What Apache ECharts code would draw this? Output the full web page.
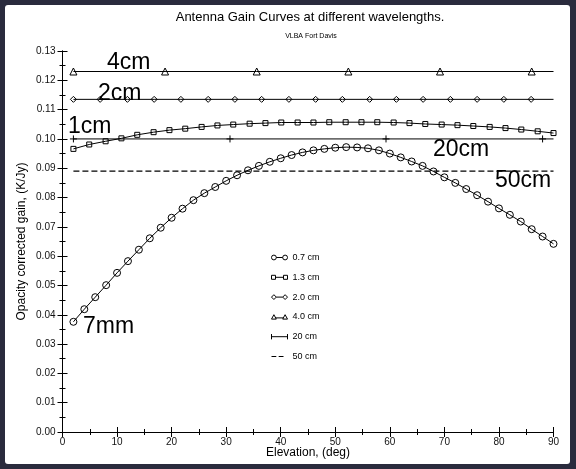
<!DOCTYPE html>
<html>
<head>
    <meta charset="utf-8">
    <title>Antenna Gain Curves</title>
    <script src="https://cdn.jsdelivr.net/npm/echarts@6/dist/echarts.min.js"></script>
    <style>
        html, body { margin: 0; padding: 0; background: #2a2b3d; }
    </style>
</head>
<body>
    <div id="main" style="width: 576px;height: 469px;"></div>
    <script type="text/javascript">
// values
var elev07 = [2, 4, 6, 8, 10, 12, 14, 16, 18, 20, 22, 24, 26, 28, 30, 32, 34, 36, 38, 40, 42, 44, 46,
    48, 50, 52, 54, 56, 58, 60, 62, 64, 66, 68, 70, 72, 74, 76, 78, 80, 82, 84, 86, 88, 90];
var gain07 = [0.0376, 0.0419, 0.0460, 0.0501, 0.0543, 0.0583, 0.0622, 0.0661, 0.0697, 0.0731,
    0.0762, 0.0791, 0.0815, 0.0836, 0.0857, 0.0876, 0.0893, 0.0908, 0.0922, 0.0934, 0.0945,
    0.0954, 0.0961, 0.0966, 0.0970, 0.0972, 0.0971, 0.0968, 0.0961, 0.0950, 0.0937, 0.0923,
    0.0908, 0.0889, 0.0869, 0.0850, 0.0829, 0.0808, 0.0786, 0.0763, 0.0741, 0.0718, 0.0692,
    0.0667, 0.0642];

var elev13 = [2.0, 4.9, 7.9, 10.8, 13.7, 16.7, 19.6, 22.5, 25.5, 28.4, 31.3, 34.3, 37.2, 40.1, 43.1,
    46.0, 48.9, 51.9, 54.8, 57.7, 60.7, 63.6, 66.5, 69.5, 72.4, 75.3, 78.3, 81.2, 84.1, 87.1, 90.0];
var gain13 = [0.0966, 0.0981, 0.0992, 0.1002, 0.1014, 0.1023, 0.1030, 0.1035, 0.1041, 0.1046,
    0.1049, 0.1052, 0.1054, 0.1056, 0.1056, 0.1056, 0.1057, 0.1057, 0.1057, 0.1057, 0.1056,
    0.1054, 0.1051, 0.1049, 0.1047, 0.1044, 0.1041, 0.1037, 0.1032, 0.1026, 0.1020];

// last point of these lines (at 90) carries no marker
var elev20 = [2, 6.9, 11.9, 16.8, 21.7, 26.7, 31.6, 36.5, 41.5, 46.4, 51.3, 56.3, 61.2, 66.1,
    71.1, 76.0, 80.9, 85.9, 90];
var gain20 = [0.1135, 0.1135, 0.1135, 0.1135, 0.1135, 0.1135, 0.1135, 0.1135, 0.1135, 0.1135,
    0.1135, 0.1135, 0.1135, 0.1135, 0.1135, 0.1135, 0.1135, 0.1135, 0.1135];

var elev40 = [2, 18.8, 35.6, 52.4, 69.2, 86.0, 90];
var gain40 = [0.123, 0.123, 0.123, 0.123, 0.123, 0.123, 0.123];

var elev200 = [2, 30.7, 59.3, 88, 90];
var gain200 = [0.100, 0.100, 0.100, 0.100, 0.100];

var elev500 = [2, 90];
var gain500 = [0.089, 0.089];

var legendNames = ['0.7 cm', '1.3 cm', '2.0 cm', '4.0 cm', '20 cm', '50 cm'];
var xTicks = { min: 0, max: 90, interval: 10 };
var yTicks = { min: 0, max: 0.13, interval: 0.01 };

var FONT = '"Liberation Sans", Arial, Helvetica, sans-serif';

// legend keys drawn like the original: marker - line - marker
var legendIcons = [
    'path://M0,3A3,3,0,1,1,6,3A3,3,0,1,1,0,3ZM6,3L14,3M14,3A3,3,0,1,1,20,3A3,3,0,1,1,14,3Z',
    'path://M0,0.5h5v5h-5zM5,3H15M15,0.5h5v5h-5z',
    'path://M0,3L3,0L6,3L3,6ZM6,3H14M14,3L17,0L20,3L17,6Z',
    'path://M0,6L3,0.5L6,6ZM5,4.5H15M14,6L17,0.5L20,6Z',
    'path://M1,0V6M1,3H19M19,0V6',
    'path://M0,0M20,6M0,3H6M9,3H15'
];

function pts(xs, ys, plainLast) {
    return xs.map(function (x, i) {
        var p = { value: [x, ys[i]] };
        if (plainLast && i === xs.length - 1) p.symbol = 'none';
        return p;
    });
}

function curve(name, xs, ys, symbol, size, plainLast, dashed) {
    return {
        name: name,
        type: 'line',
        data: pts(xs, ys, plainLast),
        symbol: symbol,
        symbolSize: size,
        showSymbol: symbol !== 'none',
        lineStyle: { color: '#000', width: dashed ? 1.3 : 1, type: dashed ? [6, 3] : 'solid' },
        itemStyle: { color: 'rgba(255,255,255,0)', borderColor: '#000', borderWidth: 1 },
        emphasis: { disabled: true },
        z: 3
    };
}

function axisTicks() {
    return {
        axisLine: { show: true, lineStyle: { color: '#000', width: 1 } },
        axisTick: { show: true, inside: true, length: 5, lineStyle: { color: '#000' } },
        minorTick: { show: true, splitNumber: 2, length: 3, lineStyle: { color: '#000' } },
        splitLine: { show: false }
    };
}

var myChart = echarts.init(document.getElementById('main'));

var xBottom = Object.assign({
    type: 'value', position: 'bottom', min: xTicks.min, max: xTicks.max, interval: xTicks.interval,
    name: 'Elevation, (deg)', nameLocation: 'middle', nameGap: 15, nameMoveOverlap: false,
    nameTextStyle: { fontFamily: FONT, fontSize: 12, color: '#000' },
    axisLabel: { fontFamily: FONT, fontSize: 10, color: '#111', margin: 5 }
}, axisTicks());
var xTop = Object.assign({
    type: 'value', position: 'top', min: xTicks.min, max: xTicks.max, interval: xTicks.interval,
    axisLabel: { show: false }
}, axisTicks());
var yLeft = Object.assign({
    type: 'value', position: 'left', min: yTicks.min, max: yTicks.max, interval: yTicks.interval,
    name: 'Opacity corrected gain, (K/Jy)', nameLocation: 'middle', nameGap: 35, nameMoveOverlap: false,
    nameTextStyle: { fontFamily: FONT, fontSize: 12, color: '#000' },
    axisLabel: {
        fontFamily: FONT, fontSize: 10, color: '#111', margin: 7,
        formatter: function (v) { return v.toFixed(2); }
    }
}, axisTicks());
var yRight = Object.assign({
    type: 'value', position: 'right', min: yTicks.min, max: yTicks.max, interval: yTicks.interval,
    axisLabel: { show: false }
}, axisTicks());

function note(text, x, y) {
    return {
        type: 'text', x: x, y: y, z: 10,
        style: {
            text: text, fill: '#000', font: '23px ' + FONT,
            textAlign: 'left', textVerticalAlign: 'middle', align: 'left', verticalAlign: 'middle'
        }
    };
}

myChart.setOption({
    animation: false,
    backgroundColor: '#2a2b3d',
    graphic: [
        { type: 'rect', z: -10, shape: { x: 5, y: 5, width: 565, height: 459, r: 3 }, style: { fill: '#fff' } },
        {
            type: 'text', x: 310, y: 17, z: 10,
            style: {
                text: 'Antenna Gain Curves at different wavelengths.', fill: '#000', font: '13px ' + FONT,
                textAlign: 'center', textVerticalAlign: 'middle', align: 'center', verticalAlign: 'middle'
            }
        },
        {
            type: 'text', x: 311, y: 36, z: 10,
            style: {
                text: 'VLBA Fort Davis', fill: '#000', font: '7px ' + FONT,
                textAlign: 'center', textVerticalAlign: 'middle', align: 'center', verticalAlign: 'middle'
            }
        },
        note('4cm', 107, 63),
        note('2cm', 98, 94),
        note('1cm', 68, 127),
        note('20cm', 433, 150),
        note('50cm', 495, 181),
        note('7mm', 83, 327)
    ],
    grid: { left: 62.5, right: 22.5, top: 51, bottom: 37, show: false },
    legend: {
        orient: 'vertical', left: 271, top: 253, padding: 0,
        itemWidth: 16, itemHeight: 10, itemGap: 10.8,
        data: legendNames.map(function (n, i) { return { name: n, icon: legendIcons[i] }; }),
        itemStyle: { color: 'rgba(255,255,255,0)', borderColor: '#000', borderWidth: 1 },
        textStyle: { fontFamily: FONT, fontSize: 9, color: '#000' },
        selectedMode: false
    },
    xAxis: [xBottom, xTop],
    yAxis: [yLeft, yRight],
    series: [
        curve(legendNames[0], elev07, gain07, 'circle', 7, false, false),
        curve(legendNames[1], elev13, gain13, 'rect', 5, false, false),
        curve(legendNames[2], elev20, gain20, 'diamond', 6, true, false),
        curve(legendNames[3], elev40, gain40, 'triangle', 7, true, false),
        curve(legendNames[4], elev200, gain200, 'path://M5,0L5,10M0,5L10,5', 7, true, false),
        curve(legendNames[5], elev500, gain500, 'none', 0, false, true)
    ]
});
    </script>
</body>
</html>
